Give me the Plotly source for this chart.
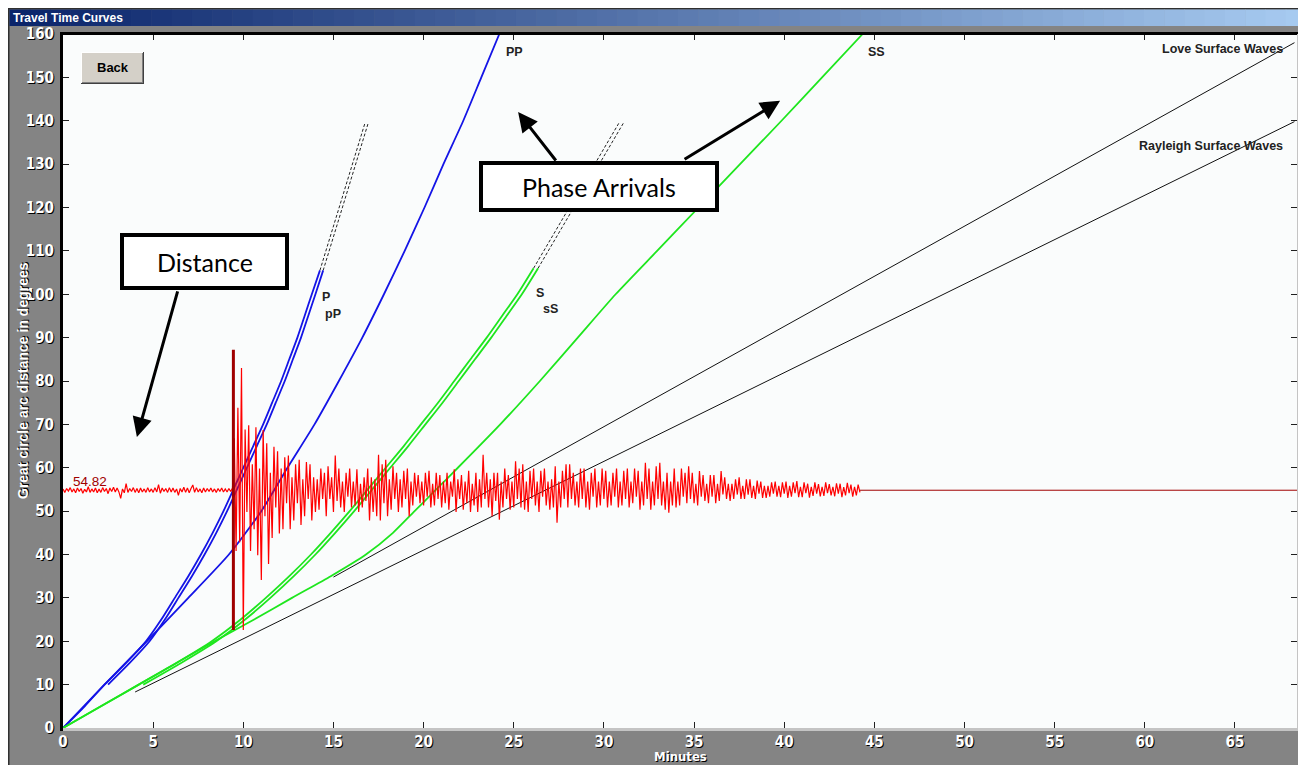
import plotly.graph_objects as go

# ---- travel time curves: distance (deg) vs time (minutes) ----
p_deg = [0, 5, 10, 15, 20, 25, 30, 35, 40, 45, 50, 55, 60, 65, 70, 75, 80, 85, 90, 95, 100, 105.5]
p_min = [0, 1.2, 2.3, 3.5, 4.6, 5.45, 6.2, 6.95, 7.65, 8.3, 8.9, 9.45, 10.0, 10.55, 11.1,
         11.6, 12.1, 12.55, 13.0, 13.4, 13.8, 14.25]
pP_deg = [10, 15, 20, 25, 30, 35, 40, 45, 50, 55, 60, 65, 70, 75, 80, 85, 90, 95, 100, 105.5]
pP_min = [2.5, 3.7, 4.8, 5.65, 6.4, 7.15, 7.85, 8.5, 9.1, 9.65, 10.2, 10.75, 11.3, 11.8,
          12.3, 12.75, 13.2, 13.6, 14.0, 14.43]
pdiff_deg = [105.5, 139.5]
pdiff_min = [14.25, 16.75]
pPdiff_min = [14.43, 16.93]

pp_deg = [0, 10, 20, 30, 40, 50, 60, 70, 80, 90, 100, 110, 120, 130, 140, 150, 160]
pp_min = [0, 2.3, 4.65, 6.95, 9.2, 11.0, 12.45, 13.95, 15.3, 16.6, 17.8, 18.95, 20.05,
          21.1, 22.2, 23.2, 24.2]

s_deg = [0, 5, 10, 15, 20, 25, 30, 35, 40, 45, 50, 55, 60, 65, 70, 75, 80, 85, 90, 95, 100, 106]
s_min = [0, 2.1, 4.2, 6.3, 8.25, 9.85, 11.25, 12.55, 13.75, 14.85, 15.9, 16.9, 17.9, 18.9,
         19.85, 20.8, 21.7, 22.6, 23.5, 24.35, 25.2, 26.1]
sS_deg = [10, 15, 20, 25, 30, 35, 40, 45, 50, 55, 60, 65, 70, 75, 80, 85, 90, 95, 100, 106]
sS_min = [4.45, 6.55, 8.5, 10.1, 11.5, 12.8, 14.0, 15.1, 16.15, 17.15, 18.15, 19.15,
          20.1, 21.05, 21.95, 22.85, 23.75, 24.6, 25.45, 26.35]
sdiff_deg = [106, 139.6]
sdiff_min = [26.1, 30.85]
sSdiff_min = [26.35, 31.1]

ss_deg = [0, 10, 20, 25, 30, 35, 40, 45, 50, 55, 60, 70, 80, 90, 100, 110, 120, 130, 140,
          150, 160]
ss_min = [0, 4.2, 8.4, 10.6, 12.7, 14.85, 16.8, 18.3, 19.5, 20.7, 21.9, 24.25, 26.45,
          28.55, 30.65, 32.95, 35.25, 37.55, 39.85, 42.1, 44.35]

love_min = [15.0, 68.3]
love_deg = [34.8, 158.0]
rayleigh_min = [4.0, 68.3]
rayleigh_deg = [8.3, 139.8]

# ---- seismogram at the station distance ----
station_deg = 54.82
pick_min = 9.45
pick_deg = [22.6, 87.2]
tail_min = [44.2, 68.44]
SEIS_DT = 0.1  # minutes per sample
seis_amp = [
    0.3, -0.5, 0.4, -0.2, 0.6, -0.4, 0.3, -0.6, 0.5, -0.3,
    0.4, -0.7, 0.2, -0.4, 0.8, -0.5, 0.3, -0.4, 0.5, -0.6,
    0.3, -0.5, 0.6, -0.3, 0.4, -0.8, 0.5, -0.3, 0.7, -0.4,
    0.5, -0.4, -1.9, 0.3, -0.6, 1.5, -0.5, 0.4, -0.3, 0.6,
    -0.5, 0.4, -0.6, 0.5, -0.4, 0.3, -0.5, 0.6, -0.4, 0.3,
    -0.5, 0.6, -0.4, 1.3, -0.7, 0.5, -0.3, 0.4, -0.5, 0.6,
    -0.4, 0.5, -0.5, 0.3, -1.2, 0.4, -0.4, 0.7, -0.5, 0.5,
    -0.6, 0.4, 1.2, -0.5, 0.6, -0.4, 0.3, -0.6, 0.5, -0.4,
    0.4, -0.3, 0.5, -0.4, 0.3, -0.5, 0.4, -0.3, 0.5, -0.4,
    0.3, -0.4, 0.4, -0.3, 0.5, 12.0, -14.0, 19.0, -12.0, 28.2,
    -32.2, 14.0, -5.0, 15.0, -14.0, 6.0, -9.0, 14.5, -15.0, 5.0,
    -20.7, 13.9, -6.0, 10.8, -17.0, 4.0, -11.0, 10.0, -4.0, 9.0,
    -10.0, 5.0, -9.0, 7.6, -3.0, 8.0, -9.0, 3.0, -7.0, 6.0,
    -3.0, 7.0, -8.0, 2.5, -6.0, 6.5, -2.0, 6.0, -7.0, 3.0,
    -5.0, 2.5, -4.5, 5.0, -2.0, 4.0, -6.0, 5.5, -2.0, 3.0,
    -5.0, 8.0, -2.5, 5.0, -4.0, 2.0, -5.0, 4.0, -1.5, 5.0,
    -4.0, 2.0, -3.5, 4.8, -5.0, 1.5, -4.0, 3.0, -2.5, 5.0,
    -7.0, 3.0, -5.0, 2.5, -6.0, 8.2, -7.0, 6.0, -3.0, 7.0,
    -6.0, 2.5, -4.5, 5.5, -2.0, 4.0, -5.0, 2.5, -4.0, 4.5,
    -2.0, 5.0, -6.0, 2.0, -3.5, 4.0, -1.5, 3.5, -3.0, 2.0,
    -3.5, 4.0, -1.5, 4.5, -4.0, 1.5, -3.5, 4.0, -2.0, 3.5,
    -4.0, 2.0, -3.0, 4.0, -4.5, 2.0, -1.5, 4.8, -5.0, 2.5,
    -2.0, 3.5, -4.5, 2.0, -3.0, 4.5, -5.0, 1.5, -3.5, 4.0,
    -5.0, 2.5, -4.0, 8.2, -2.0, 4.0, -4.0, 2.5, -6.0, 4.0,
    -2.5, 4.0, -6.8, 2.0, -4.0, 5.0, -2.0, 3.5, -4.5, 2.0,
    -4.0, 6.7, -2.0, 5.0, -4.0, 6.0, -4.5, 2.0, -5.0, 4.5,
    -2.0, 5.0, -3.5, 2.0, -5.0, 4.5, -1.5, 5.0, -3.5, 2.0,
    -4.5, 2.5, -4.0, 5.5, -7.5, 2.0, -4.0, 4.5, -2.0, 6.0,
    -4.0, 6.0, -2.0, 4.0, -3.5, 2.0, -4.0, 5.0, -2.0, 5.0,
    -4.0, 2.0, -4.5, 4.0, -1.5, 5.0, -4.0, 2.0, -3.5, 5.0,
    -2.0, 4.5, -4.0, 2.0, -3.5, 4.0, -1.5, 5.0, -4.0, 2.0,
    -3.5, 4.5, -2.0, 5.0, -4.0, 2.0, -3.0, 5.0, -1.5, 4.5,
    -4.5, 2.0, -3.5, 6.3, -2.0, 5.0, -4.5, 2.0, -3.5, 5.5,
    -2.0, 6.3, -3.5, 2.0, -4.5, 4.0, -5.2, 2.0, -3.5, 5.0,
    -4.0, 2.0, -3.5, 5.0, -1.5, 4.0, -3.0, 5.5, -2.0, 4.0,
    -3.0, 1.5, -3.5, 4.4, -1.5, 3.5, -2.5, 1.5, -3.0, 3.5,
    -1.5, 3.5, -3.0, 1.5, -2.5, 4.4, -1.0, 3.0, -2.0, 1.5,
    -2.5, 1.5, -2.0, 2.5, -1.0, 3.0, -2.0, 1.0, -2.0, 2.5,
    -1.0, 2.5, -1.8, 1.0, -2.0, 2.2, -0.8, 2.0, -1.8, 1.0,
    -1.8, 1.0, -1.5, 1.8, -0.8, 2.0, -1.5, 1.0, -1.6, 1.8,
    -0.8, 2.0, -1.8, 1.0, -1.5, 1.8, -0.7, 2.1, -1.6, 0.8,
    -1.6, 1.8, -0.7, 1.5, -1.7, 0.8, -1.3, 1.8, -0.8, 1.4,
    -1.4, 0.8, -1.3, 1.8, -0.7, 1.4, -1.2, 0.8, -1.4, 1.6,
    -0.8, 1.5, -1.6, 0.7, -1.2, 1.7, -0.7, 1.3, -1.5, 0.8,
    -1.2, 1.3, -0.5,
]
seis_min = [round(i * SEIS_DT, 2) for i in range(len(seis_amp))]
seis_deg = [station_deg + a for a in seis_amp]

x_ticks = list(range(0, 70, 5))
y_ticks = list(range(0, 170, 10))

BLUE = "#1414e6"
GREEN = "#1ee61e"

fig = go.Figure()

def curve(x, y, color, width=1.8, dash=None):
    fig.add_trace(go.Scatter(x=x, y=y, mode="lines", line_shape="spline",
                             line=dict(color=color, width=width, dash=dash, smoothing=0.6),
                             hoverinfo="skip"))

curve(rayleigh_min, rayleigh_deg, "#111111", 1)
curve(love_min, love_deg, "#111111", 1)
curve(pdiff_min, pdiff_deg, "#222222", 1, "3px,2px")
curve(pPdiff_min, pdiff_deg, "#222222", 1, "3px,2px")
curve(sdiff_min, sdiff_deg, "#222222", 1, "3px,2px")
curve(sSdiff_min, sdiff_deg, "#222222", 1, "3px,2px")
curve(p_min, p_deg, BLUE)
curve(pP_min, pP_deg, BLUE)
curve(pp_min, pp_deg, BLUE)
curve(s_min, s_deg, GREEN)
curve(sS_min, sS_deg, GREEN)
curve(ss_min, ss_deg, GREEN)

fig.add_trace(go.Scatter(x=tail_min, y=[station_deg] * len(tail_min), mode="lines",
                         line=dict(color="#a00000", width=1), hoverinfo="skip"))
fig.add_trace(go.Scatter(x=seis_min, y=seis_deg, mode="lines",
                         line=dict(color="#ff0000", width=1.2, simplify=False),
                         hoverinfo="skip"))
fig.add_trace(go.Scatter(x=[pick_min] * len(pick_deg), y=pick_deg, mode="lines",
                         line=dict(color="#a00000", width=3), hoverinfo="skip"))

# the page body adds an 8px white margin, so the figure starts at screen (8, 8).
# helpers below take screen pixels; plot area on screen is 63..1297 x 34..728
def px(v):
    return (v - 63) / 1234

def py(v):
    return (728 - v) / 694

shapes = []

def rect(x0, y0, x1, y1, fill, line_color=None, line_width=0, layer="above"):
    shapes.append(dict(type="rect", xref="paper", yref="paper",
                       x0=px(x0), x1=px(x1), y0=py(y0), y1=py(y1),
                       fillcolor=fill, layer=layer,
                       line=dict(color=line_color or fill, width=line_width)))

# window frame and title bar
rect(8, 8, 1306, 9.5, "#303030")
rect(8, 8, 9.5, 765, "#303030")
n = 64
c0, c1 = (10, 36, 106), (166, 202, 240)
for i in range(n):
    f = i / (n - 1)
    col = "rgb(%d,%d,%d)" % tuple(round(a + (b - a) * f) for a, b in zip(c0, c1))
    x0 = 9.5 + (1306 - 9.5) * i / n
    x1 = 9.5 + (1306 - 9.5) * (i + 1) / n + 0.5
    rect(x0, 9.5, x1, 26, col)

# plot borders
rect(60, 32, 63, 731, "#000000")
rect(60, 32, 1300, 35, "#000000")
rect(1297, 34, 1300, 731, "#c4c4c4")
rect(63, 728, 1300, 731, "#c4c4c4")

# Back button
rect(81, 52, 144, 84, "#d4d0c8")
rect(81, 52, 144, 53, "#ffffff")
rect(81, 52, 82, 84, "#ffffff")
rect(81, 83, 144, 84, "#404040")
rect(143, 52, 144, 84, "#404040")
rect(82, 82, 143, 83, "#808080")
rect(142, 53, 143, 83, "#808080")

# callout boxes
rect(122, 235, 287, 288, "#ffffff", "#000000", 4)
rect(481, 163, 717, 210, "#ffffff", "#000000", 4)

white_shadow = dict(color="#ffffff", shadow="1px 1px 0px #000000")
tick_font = dict(family="Liberation Sans Narrow, DejaVu Sans Condensed, sans-serif",
                 size=15, weight="bold", **white_shadow)

def note(text, x, y, font, **kw):
    return dict(text=text, x=px(x), y=py(y), xref="paper", yref="paper",
                xanchor=kw.pop("xanchor", "center"), yanchor="middle",
                showarrow=False, font=font, **kw)

annotations = [
    note("Travel Time Curves", 11, 17.5,
         dict(family="Liberation Sans, Arial", size=12, weight="bold", color="#ffffff"),
         xanchor="left"),
    note("Great circle arc distance in degrees", 23, 381,
         dict(family="Liberation Sans, Arial", size=14, weight="bold", **white_shadow),
         textangle=-90),
    note("Minutes", 680, 756,
         dict(family="Liberation Sans Narrow, DejaVu Sans Condensed, sans-serif",
              size=13, weight="bold", **white_shadow)),
    note("Back", 112.5, 68,
         dict(family="Liberation Sans, Arial", size=13, weight="bold", color="#000000")),
    note("Distance", 204.5, 262,
         dict(family="Comic Sans MS, Lato, sans-serif", size=25, color="#000000")),
    note("Phase Arrivals", 599, 187,
         dict(family="Comic Sans MS, Lato, sans-serif", size=25, color="#000000")),
]

lab_font = dict(family="Liberation Sans, Arial", size=12.5, weight="bold", color="#222222")
for txt, x, y, anchor in [("P", 14.25, 99.4, "left"), ("pP", 14.4, 95.4, "left"),
                          ("PP", 24.45, 155.9, "left"), ("S", 26.15, 100.4, "left"),
                          ("sS", 26.5, 96.5, "left"), ("SS", 44.55, 155.9, "left"),
                          ("Love Surface Waves", 67.8, 156.5, "right"),
                          ("Rayleigh Surface Waves", 67.8, 134.2, "right")]:
    annotations.append(dict(text=txt, x=x, y=y, xanchor=anchor, yanchor="middle",
                            showarrow=False, font=lab_font))
annotations.append(dict(text="54.82", x=0.45, y=56.9, xanchor="left", yanchor="middle",
                        showarrow=False,
                        font=dict(family="Liberation Sans, Arial", size=13.5,
                                  color="#a00000")))

# arrows (head x/y, tail ax/ay)
for hx, hy, tx, ty in [(4.10, 67.1, 6.38, 101.0), (25.24, 142.0, 27.40, 130.5),
                       (39.77, 144.6, 34.39, 130.9)]:
    annotations.append(dict(text="", x=hx, y=hy, ax=tx, ay=ty, axref="x", ayref="y",
                            showarrow=True, arrowhead=2, arrowsize=1.3, arrowwidth=3,
                            arrowcolor="#000000", standoff=0, startstandoff=0))

fig.update_layout(
    template="none",
    width=1298, height=757,
    margin=dict(l=55, r=9, t=26, b=37),
    paper_bgcolor="#848484",
    plot_bgcolor="#fafcfc",
    showlegend=False,
    shapes=shapes,
    annotations=annotations,
)
fig.update_xaxes(range=[0, 68.44], tickvals=x_ticks, ticks="inside", ticklen=6,
                 tickcolor="#202020", tickwidth=1, showgrid=False, zeroline=False,
                 showline=True, linecolor="#c4c4c4", linewidth=1, mirror="ticks",
                 tickfont=tick_font, ticklabelstandoff=0, automargin=False)
fig.update_yaxes(range=[0, 160], tickvals=y_ticks, ticks="inside", ticklen=6,
                 tickcolor="#202020", tickwidth=1, showgrid=False, zeroline=False,
                 showline=True, linecolor="#c4c4c4", linewidth=1, mirror="ticks",
                 tickfont=tick_font, ticklabelstandoff=5, automargin=False)

fig.write_html("out.html")
